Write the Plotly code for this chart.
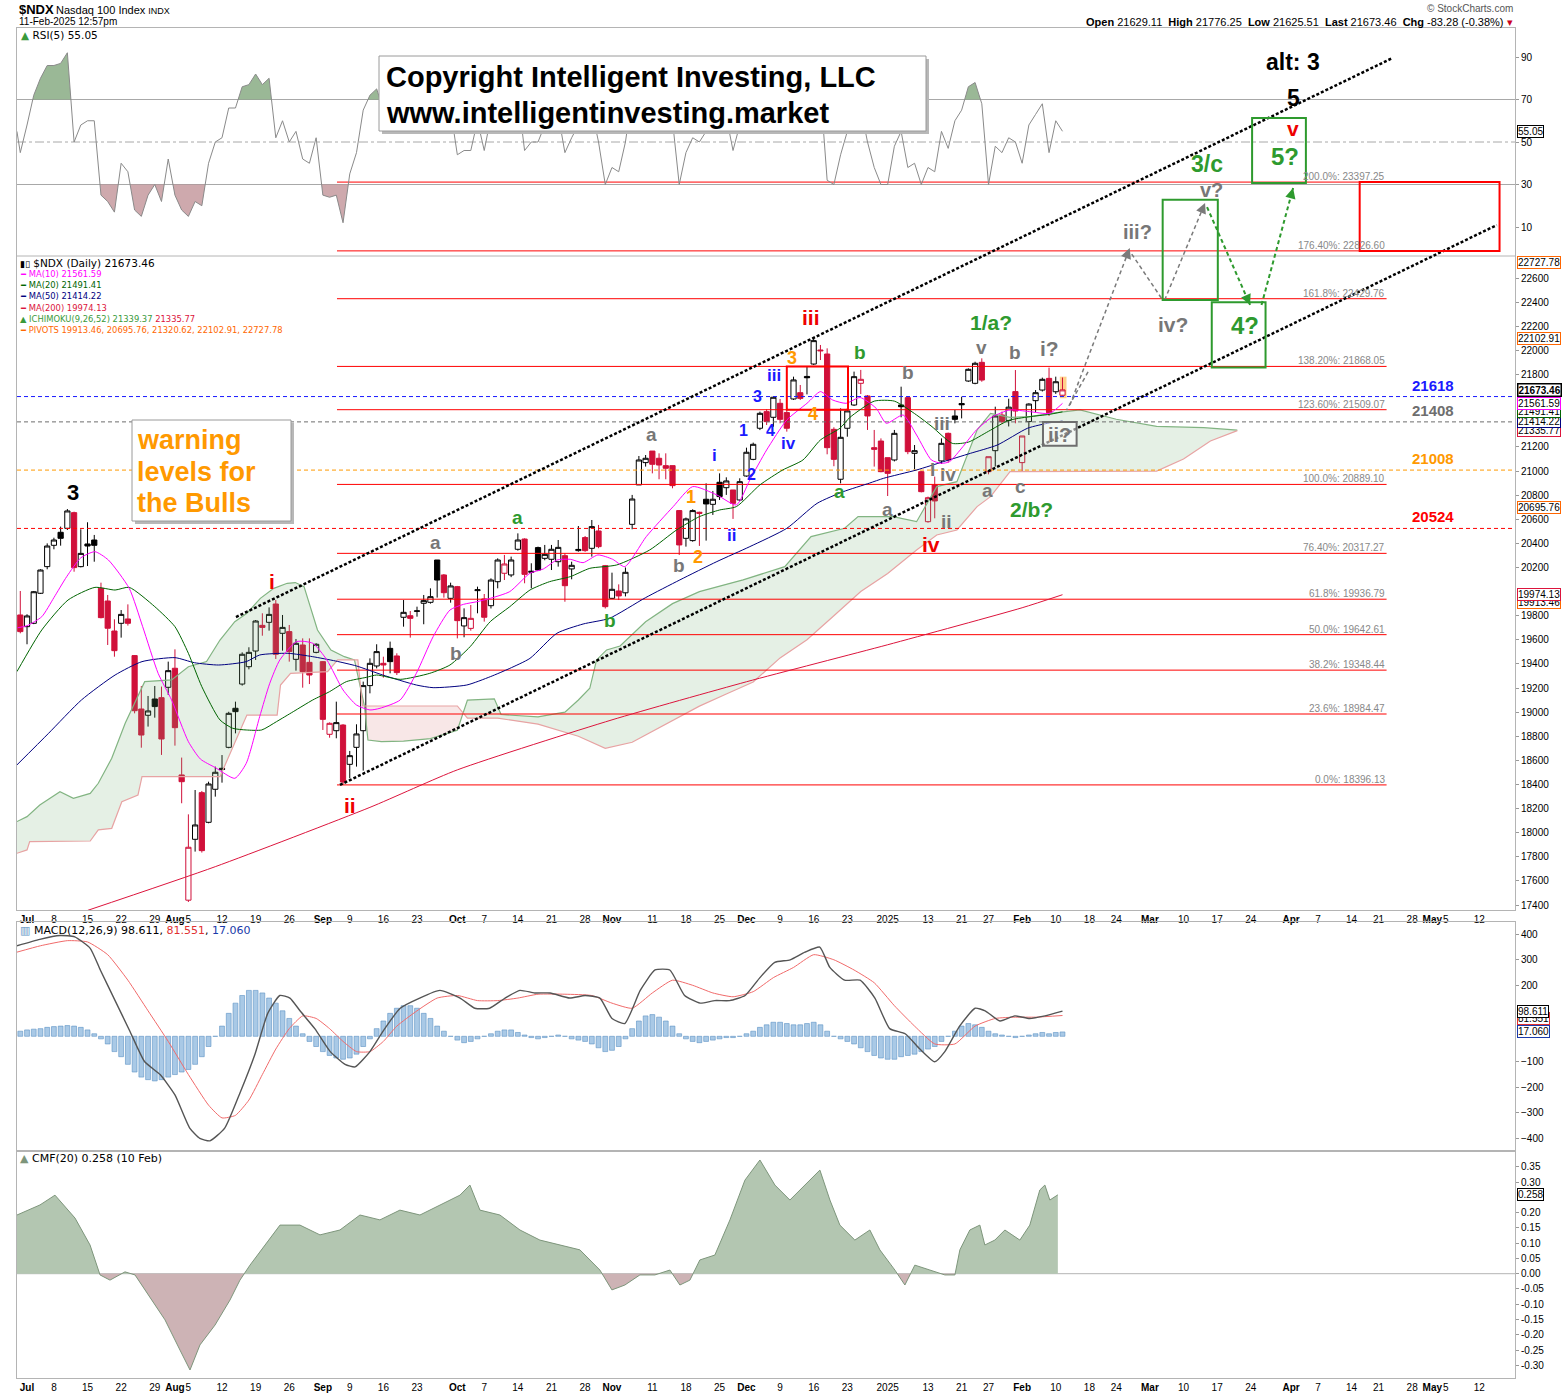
import numpy as np
import plotly.graph_objects as go

# ---------------- layout constants (pixels of the target picture) ----------------
# The page is photographed with a slight vertical squeeze, so the figure is laid out
# K times taller; every vertical position below is given in target-picture pixels.
K = 1405 / 1396
W, H = 1565, 1405
ML, MR = 17, 50
MT, MB = 28 * K, 18 * K
PW = W - ML - MR


def pxx(x):
    return (x - ML) / PW


def pxy(y):
    return 1 - (y - 28) / 1350


X_RANGE = [-1.49, 221.3]
PRICE_RANGE = [17358.5, 24675.6]
RSI_RANGE = [-311.4, 103.65]
MACD_RANGE = [-448.6, 448.2]
CMF_RANGE = [-0.3412, 0.4024]

# ---------------- x axis: trading-day index (0 = 1 Jul 2024) ----------------
TICK_IDX = [0, 4, 9, 14, 19, 22, 24, 29, 34, 39, 44, 48, 53, 58, 64, 68, 73, 78, 83, 87, 93, 98, 103,
            107, 112, 117, 122, 128, 134, 139, 143, 148, 153, 158, 162, 167, 172, 177, 182, 188, 192,
            197, 201, 206, 209, 211, 216]
TICK_TXT = ["Jul", "8", "15", "22", "29", "Aug", "5", "12", "19", "26", "Sep", "9", "16", "23", "Oct", "7",
            "14", "21", "28", "Nov", "11", "18", "25", "Dec", "9", "16", "23", "2025", "13", "21", "27",
            "Feb", "10", "18", "24", "Mar", "10", "17", "24", "Apr", "7", "14", "21", "28", "May", "5", "12"]

# y ticks (values hidden behind the value tags are left out, as on the chart)
PRICE_TICKS = [v for v in range(17400, 22601, 200) if v not in (21600, 21400, 20000)]
RSI_TICKS = [10, 30, 50, 70, 90]
MACD_TICKS = [400, 300, 200, -100, -200, -300, -400]
CMF_TICKS = [0.35, 0.30, 0.20, 0.15, 0.10, 0.05, 0.00, -0.05, -0.10, -0.15, -0.20, -0.25, -0.30]

# ---------------- daily OHLC ----------------
IDX = list(range(-1, 155))
OPEN = [19806, 19709, 19737, 19986, 20207, 20384, 20492, 20525, 20655, 20207, 20395, 20428, 20027, 19922,
        19673, 19737, 19773, 19469, 19026, 18974, 19109, 19120, 19206, 19364, 18479, 17440, 17945, 18332,
        18086, 18360, 18534, 18708, 19032, 19233, 19377, 19507, 19720, 19745, 19897, 19654, 19668, 19438,
        19557, 19413, 19496, 19419, 18816, 18846, 18893, 18567, 18708, 18846, 19220, 19383, 19405, 19529,
        19466, 19787, 19800, 19836, 19903, 19911, 20262, 20138, 19944, 20041, 19715, 19695, 20008, 19939,
        19883, 20082, 20152, 20138, 20351, 20436, 20160, 20365, 20276, 20268, 20248, 20298, 20188, 20340,
        20448, 20359, 20503, 20215, 19944, 20005, 19990, 20558, 20885, 21070, 21166, 21106, 21045, 21045,
        20672, 20442, 20423, 20658, 20766, 20724, 20907, 20862, 20843, 20760, 20959, 21097, 21355, 21493,
        21446, 21562, 21485, 21598, 21650, 21785, 21888, 22004, 21971, 21346, 20932, 21355, 21548, 21728,
        21623, 21194, 21249, 21111, 21092, 21548, 21609, 21147, 20995, 20580, 20884, 21084, 21313, 21457,
        21560, 21747, 21728, 21902, 20995, 21169, 21465, 21420, 21659, 21070, 21410, 21584, 21672, 21769,
        21658, 21629.11]
HIGH = [20005, 19812, 20005, 20185, 20400, 20447, 20539, 20685, 20663, 20517, 20575, 20470, 20074, 19972,
        19770, 19847, 19894, 19474, 19217, 19134, 19217, 19212, 19419, 19521, 18623, 18152, 18354, 18346,
        18423, 18548, 18644, 19003, 19087, 19496, 19538, 19764, 19820, 19869, 19930, 19806, 19723, 19607,
        19612, 19612, 19572, 19424, 18915, 19087, 18900, 18678, 18899, 19253, 19446, 19563, 19460, 19585,
        19488, 19930, 19839, 19875, 19972, 20027, 20262, 20146, 20074, 20047, 19861, 19889, 20041, 19980,
        20110, 20276, 20304, 20290, 20483, 20442, 20235, 20373, 20387, 20387, 20428, 20317, 20248, 20544,
        20461, 20594, 20553, 20221, 20157, 20060, 20200, 20802, 21125, 21133, 21166, 21147, 21147, 21045,
        20677, 20614, 20683, 20663, 20898, 20835, 20981, 20948, 20843, 20940, 21194, 21236, 21493, 21512,
        21617, 21598, 21529, 21783, 21714, 21866, 22101, 22046, 22018, 21363, 21520, 21520, 21825, 21839,
        21631, 21341, 21271, 21111, 21341, 21700, 21617, 21216, 21000, 20788, 20954, 21271, 21319, 21507,
        21617, 21852, 21907, 21935, 21119, 21534, 21493, 21600, 21838, 21291, 21562, 21672, 21775, 21858,
        21783, 21776.25]
LOW = [19654, 19563, 19730, 19980, 20185, 20351, 20381, 20511, 20165, 20201, 20212, 20248, 19778, 19557,
       19460, 19618, 19718, 18990, 18705, 18880, 18954, 18645, 19142, 18722, 18244, 17425, 17843, 17835,
       18078, 18299, 18415, 18700, 18824, 19220, 19355, 19433, 19634, 19676, 19441, 19510, 19419, 19344,
       19203, 19233, 19488, 18852, 18788, 18783, 18396, 18451, 18548, 18515, 19156, 19363, 19286, 19322,
       19308, 19709, 19618, 19792, 19729, 19900, 19950, 19950, 19908, 19612, 19621, 19676, 19820, 19751,
       19860, 20027, 20096, 20120, 20340, 20069, 20027, 20170, 20260, 20179, 20207, 19916, 20102, 20331,
       20330, 20290, 20360, 19860, 19940, 19930, 19960, 20517, 20885, 21037, 20981, 20932, 20932, 20857,
       20304, 20373, 20414, 20379, 20423, 20636, 20760, 20802, 20603, 20750, 20953, 21090, 21340, 21382,
       21368, 21396, 21327, 21590, 21590, 21636, 21880, 21921, 21139, 21040, 20898, 21285, 21540, 21639,
       21341, 21037, 20990, 20793, 21080, 21446, 21140, 21014, 20823, 20572, 20608, 21060, 21070, 21396,
       21437, 21740, 21720, 21741, 20973, 21037, 21390, 21370, 21396, 20995, 21299, 21490, 21660, 21457,
       21640, 21625.51]
CLOSE = [19668, 19798, 19999, 20179, 20378, 20428, 20442, 20669, 20199, 20317, 20378, 20384, 19784, 19696,
         19510, 19811, 19737, 19012, 18810, 19010, 19046, 18777, 19344, 18871, 18423, 17879, 18064, 17851,
         18404, 18501, 18524, 18990, 19004, 19480, 19496, 19756, 19703, 19811, 19480, 19703, 19502, 19571,
         19336, 19308, 19563, 18940, 18907, 18913, 18420, 18639, 18819, 19220, 19405, 19502, 19391, 19419,
         19328, 19828, 19778, 19840, 19925, 19958, 20096, 19991, 20047, 19759, 19784, 19778, 20015, 19787,
         20096, 20262, 20229, 20262, 20428, 20143, 20168, 20179, 20309, 20351, 20367, 20049, 20218, 20350,
         20340, 20539, 20373, 19875, 20019, 19964, 20160, 20768, 21092, 21106, 21056, 21050, 21023, 20879,
         20387, 20603, 20672, 20649, 20727, 20766, 20788, 20918, 20732, 20912, 21156, 21222, 21479, 21410,
         21612, 21429, 21355, 21756, 21603, 21774, 22082, 21998, 21194, 21097, 21280, 21499, 21783, 21761,
         21457, 21180, 20995, 20981, 21313, 21534, 21161, 21169, 20829, 20779, 20752, 21230, 21092, 21429,
         21550, 21844, 21894, 21755, 21119, 21457, 21410, 21530, 21498, 21291, 21556, 21650, 21761, 21484,
         21741, 21673.46]

# ---------------- moving averages ----------------
MA10_X = [-1.4, 0, 2.2, 4, 5.9, 8, 10.1, 12.1, 15.2, 17.2, 19.5, 21.5, 24, 25.8, 28, 30.9, 32.6, 34.6, 36.1,
          37.6, 40.1, 42.5, 44.6, 47, 49, 51, 52.5, 55.5, 57.9, 60.4, 62.9, 64.9, 66.9, 68.9, 71.8, 74.8,
          76.8, 78.8, 80.8, 82.7, 84.9, 87.1, 88.9, 92.1, 96.1, 99, 102.6, 105.5, 107.5, 110, 113, 116, 118,
          119.8, 121.8, 123.9, 126.3, 127.8, 130.3, 132.3, 134.5, 136, 137.2, 139.2, 141.2, 143.6, 146.2,
          149.1, 152.1, 154]
MA10_Y = [19700, 19717, 19792, 19950, 20124, 20280, 20331, 20262, 20027, 19709, 19322, 19101, 18755, 18610,
          18540, 18451, 18575, 18962, 19239, 19433, 19585, 19571, 19433, 19184, 19059, 19018, 19032, 19101,
          19322, 19626, 19847, 19894, 19916, 19944, 20000, 20152, 20188, 20262, 20268, 20240, 20304, 20268,
          20207, 20456, 20705, 20871, 20802, 20719, 20926, 21175, 21424, 21562, 21659, 21590, 21562, 21610,
          21520, 21396, 21465, 21299, 21092, 21064, 21078, 21203, 21341, 21451, 21507, 21493, 21479, 21561.59]
MA20_X = [-1.5, 2.2, 6.1, 10.1, 13.1, 15.2, 19, 22, 24, 26, 28.7, 30.6, 32.6, 34.9, 37.1, 39.6, 42.5, 45,
          47.5, 50.5, 52, 55.5, 59.9, 62.9, 65.9, 68.9, 71.8, 74.8, 77.7, 80.8, 83.7, 87.7, 92.6, 96.6, 100,
          103, 105.5, 109, 112.4, 115.4, 118, 120.9, 122.4, 126, 129, 132.3, 134.6, 137.6, 140, 143, 146,
          149, 152, 154]
MA20_Y = [19336, 19682, 19930, 20035, 20013, 20035, 19875, 19709, 19488, 19211, 18935, 18866, 18852, 18852,
          18921, 19004, 19101, 19170, 19253, 19289, 19308, 19272, 19322, 19391, 19543, 19751, 19875, 20013,
          20082, 20124, 20193, 20221, 20345, 20511, 20622, 20677, 20705, 20885, 21009, 21092, 21258, 21355,
          21446, 21580, 21580, 21465, 21368, 21230, 21240, 21330, 21420, 21450, 21470, 21491.41]
MA50_X = [-1.5, 3.2, 8.1, 13.1, 17.1, 22, 24.9, 28.5, 32.6, 34.6, 38.8, 42.5, 45.9, 49, 52.9, 57.9, 60.4,
          65.4, 68.9, 71.8, 74.8, 78.8, 82.7, 86.6, 92, 97.1, 102.6, 107.5, 113, 117.5, 121.4, 125.3, 127.4,
          132.3, 136.3, 140.3, 144.3, 148.8, 152.1, 154]
MA50_Y = [18562, 18824, 19101, 19308, 19419, 19452, 19410, 19391, 19419, 19474, 19488, 19460, 19424, 19383,
          19308, 19225, 19203, 19225, 19294, 19363, 19446, 19654, 19731, 19778, 19950, 20097, 20249, 20373,
          20525, 20732, 20829, 20900, 20940, 21009, 21078, 21147, 21216, 21355, 21400, 21414.22]
MA200_X = [9, 28, 51, 64, 87, 107, 128, 148, 154]
MA200_Y = [17355, 17718, 18210, 18521, 18936, 19252, 19559, 19866, 19974.13]

# ---------------- Ichimoku cloud spans ----------------
SPAN_A_X = [-1.5, 0, 1.9, 4.9, 6.9, 9.4, 10.6, 12.6, 14.6, 16.5, 17.5, 21.5, 24, 26.7, 28.7, 30.9, 32.7,
            34.7, 36.7, 38.7, 39.9, 41.2, 43.2, 45.2, 47.2, 48.7, 50.2, 50.7, 52.7, 56, 60, 64, 65.5, 69.5,
            70.5, 76, 80, 82, 83.7, 84.7, 86.2, 88.2, 92, 96, 100, 104, 106.5, 112.7, 116.6, 121.6, 123.6,
            128.8, 132.3, 135.3, 138.3, 141.3, 143.3, 146.2, 149.2, 152.2, 156.6, 162, 168, 175, 180]
SPAN_A_Y = [18092, 18133, 18230, 18340, 18285, 18326, 18410, 18617, 18907, 19128, 19253, 19267, 19377,
            19420, 19598, 19750, 19820, 19944, 20027, 20069, 20075, 20041, 19681, 19515, 19460, 19433, 19045,
            18769, 18755, 18760, 18780, 18850, 19100, 19110, 18980, 18960, 19000, 19101, 19198, 19433, 19516,
            19549, 19750, 19900, 20000, 20060, 20097, 20207, 20456, 20525, 20622, 20622, 20580, 20871, 20912,
            21341, 21479, 21446, 21451, 21479, 21507, 21430, 21370, 21360, 21339]
SPAN_B_X = [-1.5, 0, 0.4, 9.4, 10.6, 12.6, 14.1, 16.5, 17.1, 28.7, 32.7, 37.2, 37.7, 39.2, 44.7, 46.2, 49.2,
            49.9, 64, 65.5, 70, 76, 82, 86, 90, 95, 100, 104, 108, 112, 116, 120, 124, 128, 132.3, 135.3,
            138.3, 141.3, 143.3, 146.2, 156.6, 168, 172, 176, 180]
SPAN_B_Y = [17829, 17857, 17926, 17931, 18023, 18036, 18257, 18312, 18465, 18465, 18976, 18976, 19225,
            19322, 19336, 19433, 19433, 19051, 19051, 18950, 18950, 18900, 18800, 18700, 18750, 18900, 19050,
            19150, 19250, 19450, 19600, 19800, 20000, 20150, 20345, 20470, 20511, 20705, 20788, 20995, 20995,
            21000, 21100, 21250, 21335]

# ---------------- Fibonacci extension levels ----------------
FIB_VAL = [23397.25, 22826.60, 22429.76, 21868.05, 21509.07, 20889.10, 20317.27, 19936.79, 19642.61,
           19348.44, 18984.47, 18396.13]
FIB_TXT = ["200.0%: 23397.25", "176.40%: 22826.60", "161.8%: 22429.76", "138.20%: 21868.05",
           "123.60%: 21509.07", "100.0%: 20889.10", "76.40%: 20317.27", "61.8%: 19936.79",
           "50.0%: 19642.61", "38.2%: 19348.44", "23.6%: 18984.47", "0.0%: 18396.13"]
FIB_X = [46.1, 202.2]

# warning levels
LEVEL_VAL = [21618, 21408, 21008, 20524]
LEVEL_COL = ["#1a1aff", "#6e6e6e", "#ff9900", "#ff0000"]

# channel lines (start / end points, index, price)
UPPER_CH = [(31.08, 19789), (203.1, 24427)]
LOWER_CH = [(46.54, 18396), (218.6, 23041)]

# ---------------- RSI(5) ----------------
RSI_X = [-1.5] + list(range(-1, 155))
RSI_Y = [55, 45, 58, 72, 80, 86, 86, 87, 92, 50, 58, 60, 60, 25, 22, 17, 40, 36, 18, 15, 25, 30, 22, 42, 25,
         18, 15, 22, 20, 40, 50, 52, 66, 66, 76, 77, 82, 77, 80, 52, 60, 50, 55, 42, 40, 52, 25, 24, 25, 12,
         35, 45, 65, 72, 75, 65, 66, 60, 75, 70, 72, 74, 75, 70, 60, 65, 44, 46, 46, 60, 46, 62, 70, 65, 68,
         72, 46, 50, 50, 58, 62, 63, 45, 52, 58, 55, 65, 50, 30, 38, 36, 50, 72, 82, 83, 76, 75, 72, 60, 30,
         45, 52, 50, 55, 58, 58, 62, 46, 58, 70, 74, 80, 70, 76, 62, 55, 72, 65, 68, 80, 75, 32, 30, 44, 55,
         68, 66, 50, 38, 30, 30, 48, 55, 38, 40, 30, 38, 36, 55, 47, 60, 65, 76, 78, 68, 30, 48, 45, 52, 50,
         40, 58, 63, 68, 45, 60, 55.05]

# ---------------- MACD(12,26,9) ----------------
MACD_X = [-1.49, 1.9, 4.9, 7.1, 9.4, 10.9, 13.1, 15.3, 17.5, 19.8, 22, 24.2, 25.7, 27.2, 29.4, 31.7, 33.9,
          35.8, 37.6, 39.1, 40.6, 42.8, 45.1, 47.3, 48.8, 51, 53.2, 55.5, 58.4, 61.4, 64.4, 66.6, 68.8, 71.1,
          73.3, 75.5, 77.8, 80.7, 83, 85.2, 87, 88.9, 91.2, 93.4, 95.6, 97.8, 100.1, 102.3, 104.5, 106.8,
          109, 111.2, 113.5, 115.7, 117.9, 119.4, 121.6, 123.9, 126.1, 128.3, 130.6, 132.8, 135, 136.5,
          138.7, 141, 142.5, 144.7, 146.9, 149.1, 151.4, 154]
MACD_Y = [355, 380, 395, 390, 345, 260, 140, 20, -100, -150, -230, -360, -400, -410, -360, -220, -70, 90,
          160, 150, 100, 30, -60, -110, -120, -60, 30, 110, 150, 180, 150, 110, 110, 150, 180, 170, 170, 150,
          160, 150, 70, 50, 180, 260, 260, 160, 130, 140, 140, 160, 230, 290, 300, 330, 350, 270, 220, 220,
          150, 30, 10, -50, -100, -60, 40, 110, 100, 60, 80, 70, 80, 98.611]
SIG_X = [-1.49, 2, 6, 9, 12, 15, 18, 21, 24, 27, 29, 31, 33, 35, 37, 39, 41, 43, 45, 47, 49, 51, 53, 55, 58,
         61, 64, 67, 70, 73, 76, 80, 84, 87, 90, 93, 96, 99, 102, 105, 108, 111, 114, 117, 120, 123, 126,
         129, 132, 135, 138, 141, 144, 147, 150, 154]
SIG_Y = [330, 355, 375, 370, 320, 220, 100, -20, -150, -270, -320, -310, -250, -150, -50, 30, 80, 70, 30,
         -20, -60, -60, -20, 40, 100, 150, 160, 140, 140, 150, 165, 165, 160, 130, 110, 170, 220, 200, 170,
         155, 175, 230, 270, 320, 300, 260, 210, 120, 40, -30, -30, 40, 70, 75, 75, 81.551]
HIST = [20, 25, 28, 30, 35, 38, 40, 42, 40, 35, 25, 10,
        -10, -30, -60, -80, -110, -140, -160, -170, -175, -170, -160, -150,
        -140, -130, -110, -80, -40, 0, 40, 90,
        130, 160, 180, 180, 170, 150, 130, 100, 70, 40,
        10, -20, -40, -60, -75, -85, -90, -85,
        -70, -40, -10, 30, 60, 90, 110, 120, 120, 110,
        90, 70, 40, 20, 0, -15, -25, -20,
        -10, 0, 10, 20, 25, 25, 15, 5, -5, -10,
        -5, 0, 5, 0, -10, -15, -20, -30, -45, -60,
        -55, -40, -10, 30, 60, 80, 85, 75, 60, 40,
        10, -10, -20, -25, -20, -15, -10, -5, -5, 0,
        10, 20, 35, 45, 55, 55, 50, 45, 45, 50, 55, 45,
        20, 0, -10, -20, -30, -45, -60, -75, -85, -90, -90, -80,
        -75, -70, -60, -50, -40, -20, 0, 20, 40, 50,
        45, 35, 20, 10, 5, 0, -5, 0, 5, 10, 15, 10, 15, 17.06]

# ---------------- CMF(20) ----------------
CMF_X = [-1.49, 1.93, 4.16, 7.14, 9.37, 10.86, 12.34, 14.57, 16.06, 17.55, 20.52, 22.75, 24.24, 25.72, 27.96,
         30.19, 31.67, 33.16, 35.39, 37.62, 40.59, 43.57, 46.54, 49.52, 52.49, 55.46, 58.44, 61.41, 64.39,
         65.87, 67.36, 70.33, 73.31, 76.28, 79.26, 82.23, 85.2, 86.99, 88.92, 91.15, 93.38, 95.61, 97.1,
         98.59, 100.07, 102.3, 104.54, 106.77, 109.0, 111.23, 113.46, 115.69, 117.92, 119.41, 120.89, 123.12,
         125.35, 126.84, 129.07, 130.56, 132.04, 134.28, 136.51, 138.0, 138.74, 140.22, 141.71, 142.45,
         143.94, 145.43, 147.66, 149.14, 150.63, 151.38, 152.12, 153.31]
CMF_Y = [0.192, 0.225, 0.257, 0.182, 0.094, -0.004, -0.021, 0.006, -0.004, -0.053, -0.151, -0.250, -0.315,
         -0.233, -0.168, -0.086, -0.021, 0.028, 0.094, 0.159, 0.159, 0.127, 0.143, 0.192, 0.176, 0.208,
         0.192, 0.225, 0.257, 0.290, 0.208, 0.192, 0.143, 0.110, 0.094, 0.078, 0.012, -0.053, -0.037,
         -0.004, -0.004, 0.012, -0.037, -0.021, 0.045, 0.061, 0.176, 0.306, 0.372, 0.290, 0.241, 0.290,
         0.339, 0.241, 0.159, 0.110, 0.143, 0.078, 0.012, -0.037, 0.028, 0.012, -0.004, -0.004, 0.078,
         0.143, 0.159, 0.094, 0.110, 0.143, 0.110, 0.159, 0.274, 0.290, 0.241, 0.258]

# ---------------- wave labels: (text, index, price, colour, size) ----------------
GRAY, RED, BLUE, GREEN, ORANGE, BLACK = "#777777", "#ee0000", "#1a1aff", "#2e9a2e", "#ff9900", "#000000"
WAVE_LABELS = [
    ("3", 6.84, 20826, BLACK, 22), ("4", 23.8, 17276, BLACK, 22),
    ("i", 36.4, 20080, RED, 21), ("ii", 48.0, 18222, RED, 21), ("iii", 116.6, 22270, RED, 21),
    ("iv", 134.4, 20387, RED, 21), ("v", 188.3, 23846, RED, 21), ("5", 188.3, 24095, BLACK, 23),
    ("alt: 3", 188.3, 24394, BLACK, 23),
    ("a", 60.7, 20404, GRAY, 19), ("b", 63.8, 19483, GRAY, 19), ("a", 72.9, 20611, GREEN, 19),
    ("b", 86.7, 19757, GREEN, 19), ("a", 92.9, 21300, GRAY, 19), ("b", 97.0, 20214, GRAY, 19),
    ("1", 98.7, 20787, ORANGE, 18), ("2", 99.8, 20290, ORANGE, 18),
    ("i", 102.3, 21126, BLUE, 17), ("ii", 104.8, 20462, BLUE, 17), ("1", 106.6, 21333, BLUE, 16),
    ("2", 107.7, 20968, BLUE, 16), ("3", 108.7, 21615, BLUE, 16), ("iii", 111.1, 21790, BLUE, 17),
    ("4", 110.6, 21333, BLUE, 16), ("iv", 113.2, 21225, BLUE, 17),
    ("3", 113.8, 21939, ORANGE, 18), ("4", 116.9, 21474, ORANGE, 18),
    ("b", 123.9, 21980, GREEN, 19), ("a", 120.9, 20827, GREEN, 19),
    ("b", 131.0, 21814, GRAY, 19), ("a", 127.9, 20677, GRAY, 19), ("I", 134.6, 21009, GRAY, 19),
    ("iii", 136.1, 21391, GRAY, 19), ("iv", 137.0, 20968, GRAY, 19), ("ii", 136.7, 20578, GRAY, 19),
    ("v", 141.9, 22029, GRAY, 19), ("1/a?", 143.3, 22236, GREEN, 21), ("a", 142.9, 20835, GRAY, 19),
    ("b", 146.9, 21980, GRAY, 19), ("c", 147.8, 20868, GRAY, 19), ("2/b?", 149.4, 20685, GREEN, 21),
    ("i?", 152.1, 22013, GRAY, 21), ("ii?", 153.6, 21299, GRAY, 20),
    ("iii?", 165.1, 22983, GRAY, 20), ("iv?", 170.4, 22212, GRAY, 21), ("v?", 176.1, 23330, GRAY, 20),
    ("3/c", 175.5, 23550, GREEN, 23), ("4?", 181.1, 22204, GREEN, 24), ("5?", 187.1, 23606, GREEN, 24),
]

# projected paths (index, price)
GRAY_PATH = [[(157.8, 21822), (154.6, 21506)], [(155.1, 21548), (164.0, 22850)],
             [(164.3, 22800), (168.9, 22419)], [(169.2, 22419), (175.2, 23224)]]
GREEN_PATH = [[(175.5, 23190), (181.9, 22378)], [(183.6, 22378), (188.3, 23348)]]

# target boxes (x0, x1, p0, p1)
GREEN_BOXES = [(168.9, 177.1, 22419, 23250), (176.2, 184.2, 21860, 22400), (182.2, 190.2, 23390, 23929)]
RED_BOXES = [(198.2, 219.0, 22826.60, 23397.25), (113.0, 122.1, 21509.07, 21868.05)]

# value tags on the right axis: (text, value, colour)
PRICE_TAGS = [("22727.78", 22727.78, "#ff6600"), ("22102.91", 22102.91, "#ff6600"),
              ("21335.77", 21335.77, "#dc143c"), ("21414.22", 21414.22, "#000080"),
              ("21491.41", 21491.41, "#006400"), ("21561.59", 21561.59, "#ff00ff"),
              ("21673.46", 21673.46, "#000000"), ("20695.76", 20695.76, "#ff6600"),
              ("19913.46", 19913.46, "#ff6600"), ("19974.13", 19974.13, "#dc143c")]

# ---------------- helpers ----------------


def band_polys(xs, y1, y2):
    px, p1, p2 = [xs[0]], [y1[0]], [y2[0]]
    for k in range(1, len(xs)):
        d0 = y1[k - 1] - y2[k - 1]
        d1 = y1[k] - y2[k]
        if d0 * d1 < 0:
            t = d0 / (d0 - d1)
            xc = xs[k - 1] + t * (xs[k] - xs[k - 1])
            yc = y1[k - 1] + t * (y1[k] - y1[k - 1])
            px.append(xc); p1.append(yc); p2.append(yc)
        px.append(xs[k]); p1.append(y1[k]); p2.append(y2[k])
    runs, cur = [], [0]
    for k in range(1, len(px)):
        cur.append(k)
        if abs(p1[k] - p2[k]) < 1e-12 and k < len(px) - 1:
            runs.append(cur)
            cur = [k]
    runs.append(cur)
    out = []
    for r in runs:
        s = sum(p1[k] - p2[k] for k in r)
        if len(r) < 2 or s == 0:
            continue
        xx = [px[k] for k in r] + [px[k] for k in r[::-1]]
        yy = [p1[k] for k in r] + [p2[k] for k in r[::-1]]
        out.append((xx, yy, s > 0))
    return out


fig = go.Figure()
SKIP = dict(hoverinfo="skip", showlegend=False)

# ---- Ichimoku cloud ----
lo = max(SPAN_A_X[0], SPAN_B_X[0]); hi = min(SPAN_A_X[-1], SPAN_B_X[-1])
grid = sorted(x for x in set(SPAN_A_X) | set(SPAN_B_X) if lo <= x <= hi)
ga = np.interp(grid, SPAN_A_X, SPAN_A_Y).tolist()
gb = np.interp(grid, SPAN_B_X, SPAN_B_Y).tolist()
for xx, yy, pos in band_polys(grid, ga, gb):
    fig.add_trace(go.Scatter(x=xx, y=yy, mode="lines", fill="toself", line=dict(width=0),
                             fillcolor="rgba(110,170,110,0.18)" if pos else "rgba(215,110,110,0.17)", **SKIP))
fig.add_trace(go.Scatter(x=SPAN_A_X, y=SPAN_A_Y, mode="lines", line=dict(color="#82b482", width=1.2), **SKIP))
fig.add_trace(go.Scatter(x=SPAN_B_X, y=SPAN_B_Y, mode="lines", line=dict(color="#e7a3a3", width=1.2), **SKIP))

# ---- fib + level lines ----
for v in FIB_VAL:
    fig.add_trace(go.Scatter(x=FIB_X, y=[v, v], mode="lines", line=dict(color="#ff0000", width=1), **SKIP))
for v, c in zip(LEVEL_VAL, LEVEL_COL):
    fig.add_trace(go.Scatter(x=X_RANGE, y=[v, v], mode="lines", line=dict(color=c, width=1, dash="4px,3px"),
                             **SKIP))

# ---- candles ----
prev = [None] + CLOSE[:-1]
RED_C = "#d0103a"


def subset(cond):
    xs, o, h, l, c = [], [], [], [], []
    for k in range(len(IDX)):
        if cond(k):
            xs.append(IDX[k]); o.append(OPEN[k]); h.append(HIGH[k]); l.append(LOW[k]); c.append(CLOSE[k])
    return xs, o, h, l, c


def is_red(k):
    return prev[k] is None or CLOSE[k] < prev[k]


styles = [
    (lambda k: CLOSE[k] >= OPEN[k] and not is_red(k), "black", "white"),
    (lambda k: CLOSE[k] < OPEN[k] and not is_red(k), "black", "black"),
    (lambda k: CLOSE[k] < OPEN[k] and is_red(k), RED_C, RED_C),
    (lambda k: CLOSE[k] >= OPEN[k] and is_red(k), RED_C, "white"),
]
for cond, lc, fc in styles:
    xs, o, h, l, c = subset(cond)
    if not xs:
        continue
    fig.add_trace(go.Candlestick(x=xs, open=o, high=h, low=l, close=c, whiskerwidth=0,
                                 increasing=dict(line=dict(color=lc, width=1), fillcolor=fc),
                                 decreasing=dict(line=dict(color=lc, width=1), fillcolor=fc), **SKIP))

# ---- moving averages ----
for xs, ys, col in [(MA200_X, MA200_Y, "#dc143c"), (MA50_X, MA50_Y, "#000080"),
                    (MA20_X, MA20_Y, "#006400"), (MA10_X, MA10_Y, "#ff00ff")]:
    fig.add_trace(go.Scatter(x=xs, y=ys, mode="lines", line=dict(color=col, width=1, shape="spline",
                                                                 smoothing=0.6), **SKIP))

# ---- RSI ----
for lvl, dash in [(70, "solid"), (50, "dashdot"), (30, "solid")]:
    fig.add_trace(go.Scatter(x=X_RANGE, y=[lvl, lvl], mode="lines", yaxis="y2",
                             line=dict(color="#a8a8a8", width=1, dash=dash), **SKIP))
for lvl, want, col in [(70, True, "rgba(120,160,115,0.75)"), (30, False, "rgba(190,140,145,0.75)")]:
    for xx, yy, pos in band_polys(RSI_X, RSI_Y, [lvl] * len(RSI_X)):
        if pos == want:
            fig.add_trace(go.Scatter(x=xx, y=yy, mode="lines", fill="toself", fillcolor=col,
                                     line=dict(width=0), yaxis="y2", **SKIP))
fig.add_trace(go.Scatter(x=RSI_X, y=RSI_Y, mode="lines", yaxis="y2", line=dict(color="#8a8a8a", width=1),
                         **SKIP))

# ---- MACD ----
fig.add_trace(go.Bar(x=IDX, y=HIST, xaxis="x2", yaxis="y3", width=0.72, marker=dict(
    color="#a9c9e6", line=dict(color="#5d92c4", width=0.6)), **SKIP))
fig.add_trace(go.Scatter(x=SIG_X, y=SIG_Y, xaxis="x2", yaxis="y3", mode="lines",
                         line=dict(color="#f06a6a", width=1, shape="spline", smoothing=0.5), **SKIP))
fig.add_trace(go.Scatter(x=MACD_X, y=MACD_Y, xaxis="x2", yaxis="y3", mode="lines",
                         line=dict(color="#555555", width=1.4, shape="spline", smoothing=0.5), **SKIP))

# ---- CMF ----
for xx, yy, pos in band_polys(CMF_X, CMF_Y, [0] * len(CMF_X)):
    fig.add_trace(go.Scatter(x=xx, y=yy, mode="lines", fill="toself", line=dict(width=0),
                             fillcolor="#b3c6b1" if pos else "#cdb3b5", xaxis="x3", yaxis="y4", **SKIP))
fig.add_trace(go.Scatter(x=CMF_X, y=CMF_Y, mode="lines", xaxis="x3", yaxis="y4",
                         line=dict(color="#7d957b", width=1), **SKIP))

# ---------------- shapes ----------------
shapes = []
AX_LINE = "#b4b4b4"
shapes.append(dict(type="line", xref="paper", yref="paper", x0=0, x1=1, y0=pxy(256), y1=pxy(256),
                   line=dict(color=AX_LINE, width=1)))
shapes.append(dict(type="line", xref="x3", yref="y4", x0=X_RANGE[0], x1=X_RANGE[1], y0=0, y1=0,
                   line=dict(color=AX_LINE, width=1), layer="below"))
for (a, b) in [UPPER_CH, LOWER_CH]:
    shapes.append(dict(type="line", xref="x", yref="y", x0=a[0], y0=a[1], x1=b[0], y1=b[1],
                       line=dict(color="black", width=2.5, dash="3px,2px")))
for seg in GRAY_PATH:
    shapes.append(dict(type="line", xref="x", yref="y", x0=seg[0][0], y0=seg[0][1], x1=seg[1][0],
                       y1=seg[1][1], line=dict(color="#7a7a7a", width=1.5, dash="4px,3px")))
for seg in GREEN_PATH:
    shapes.append(dict(type="line", xref="x", yref="y", x0=seg[0][0], y0=seg[0][1], x1=seg[1][0],
                       y1=seg[1][1], line=dict(color="#2e9a2e", width=2, dash="4px,3px")))
for (x0, x1, p0, p1) in GREEN_BOXES:
    shapes.append(dict(type="rect", xref="x", yref="y", x0=x0, x1=x1, y0=p0, y1=p1,
                       line=dict(color="#2e9a2e", width=2)))
for (x0, x1, p0, p1) in RED_BOXES:
    shapes.append(dict(type="rect", xref="x", yref="y", x0=x0, x1=x1, y0=p0, y1=p1,
                       line=dict(color="#ff0000", width=2)))
# ii? box and highlight of the last candle
shapes.append(dict(type="rect", xref="x", yref="y", x0=151.1, x1=156.1, y0=21209, y1=21408,
                   line=dict(color="#6e6e6e", width=2), fillcolor="rgba(255,255,255,0.55)"))
shapes.append(dict(type="rect", xref="x", yref="y", x0=153.6, x1=154.6, y0=21604, y1=21783,
                   line=dict(width=0), fillcolor="rgba(255,170,40,0.55)", layer="below"))
# text boxes with shadows
for (x0, y0, x1, y1) in [(379, 56, 926, 131), (132, 420, 291, 521)]:
    shapes.append(dict(type="rect", xref="paper", yref="paper", x0=pxx(x0 + 3), x1=pxx(x1 + 3),
                       y0=pxy(y1 + 3), y1=pxy(y0 + 3), line=dict(width=0), fillcolor="#b8b8b8"))
    shapes.append(dict(type="rect", xref="paper", yref="paper", x0=pxx(x0), x1=pxx(x1), y0=pxy(y1),
                       y1=pxy(y0), line=dict(color="#9a9a9a", width=1), fillcolor="white"))

# ---------------- annotations ----------------
ann = []
LAB_FONT = "Liberation Sans, Arial, sans-serif"
SMALL_FONT = "DejaVu Sans, Verdana, sans-serif"


def note(x, y, text, size, color="black", family=LAB_FONT, xanchor="left", **kw):
    d = dict(x=x, y=y, xref="paper", yref="paper", text=text, showarrow=False, xanchor=xanchor,
             yanchor="middle", font=dict(family=family, size=size, color=color))
    d.update(kw)
    ann.append(d)


for txt, xi, pv, col, sz in WAVE_LABELS:
    ann.append(dict(x=xi, y=pv, xref="x", yref="y", text="<b>%s</b>" % txt, showarrow=False,
                    xanchor="center", yanchor="middle", font=dict(family=LAB_FONT, size=sz, color=col)))

for seg, col in [(s, "#7a7a7a") for s in GRAY_PATH] + [(s, "#2e9a2e") for s in GREEN_PATH]:
    (xa, ya), (xb, yb) = seg
    ann.append(dict(x=xb, y=yb, ax=xb - 0.06 * (xb - xa), ay=yb - 0.06 * (yb - ya), xref="x", yref="y",
                    axref="x", ayref="y", text="", showarrow=True, arrowhead=2, arrowsize=1.3,
                    arrowwidth=1.6, arrowcolor=col, standoff=0))

for v, t in zip(FIB_VAL, FIB_TXT):
    ann.append(dict(x=FIB_X[1], y=v, xref="x", yref="y", text=t, showarrow=False, xanchor="right",
                    yanchor="bottom", yshift=-2, font=dict(family=LAB_FONT, size=10, color="#888888")))

for v, c in zip(LEVEL_VAL, LEVEL_COL):
    ann.append(dict(x=209.1, y=v, xref="x", yref="y", text="<b>%d</b>" % v, showarrow=False,
                    xanchor="center", yanchor="bottom", yshift=1, font=dict(family=LAB_FONT, size=15, color=c)))

# text boxes
note(pxx(384), pxy(77), "<b>Copyright Intelligent Investing, LLC</b>", 29)
note(pxx(384), pxy(113), "<b>www.intelligentinvesting.market</b>", 29)
for k, line in enumerate(["warning", "levels for", "the Bulls"]):
    note(pxx(135), pxy(440 + 31.5 * k), "<b>%s</b>" % line, 27, color="#ff9900")

# header
note(0, pxy(10), "<b>$NDX</b>", 13)
note(pxx(54), pxy(10), "Nasdaq 100 Index <span style='font-size:9px'>INDX</span>", 11)
note(0, pxy(22), "11-Feb-2025 12:57pm", 10)
note(1, pxy(9), "\u00a9 StockCharts.com", 10, color="#555555", xanchor="right")
note(1, pxy(22), "<b>Open</b> 21629.11  <b>High</b> 21776.25  <b>Low</b> 21625.51  <b>Last</b> 21673.46  "
                 "<b>Chg</b> -83.28 (-0.38%) <span style='color:#cc0022'>\u25BE</span>", 11, xanchor="right")
note(pxx(19), pxy(35), "<span style='color:#3a9a3a'>\u25B2</span> RSI(5) 55.05", 10.5, family=SMALL_FONT)

# legend block of price panel
note(pxx(18), pxy(263), "<span style='font-size:9px'>\u25AE\u25AF</span> $NDX (Daily) 21673.46", 10.5,
     family=SMALL_FONT)
LEG = [("\u2501 MA(10) 21561.59", "#ff00ff"),
       ("\u2501 MA(20) 21491.41", "#006400"), ("\u2501 MA(50) 21414.22", "#000080"),
       ("\u2501 MA(200) 19974.13", "#dc143c"),
       ("<span style='color:#3a9a3a'>\u25B2 ICHIMOKU(9,26,52) 21339.37</span> "
        "<span style='color:#dc143c'>21335.77</span>", "#006400"),
       ("\u2501 PIVOTS 19913.46, 20695.76, 21320.62, 22102.91, 22727.78", "#ff6600")]
for k, (t, c) in enumerate(LEG):
    note(pxx(18), pxy(274 + 11.2 * k), t, 8.4, color=c, family=SMALL_FONT)

note(pxx(18), pxy(930), "<span style='color:#5d92c4'>\u25A5</span> MACD(12,26,9) 98.611, "
                        "<span style='color:#e03030'>81.551</span>, "
                        "<span style='color:#1a3aaa'>17.060</span>", 11, family=SMALL_FONT)
note(pxx(18), pxy(1158), "<span style='color:#7d957b'>\u25B2</span> CMF(20) 0.258 (10 Feb)", 11,
     family=SMALL_FONT)

# value tags
for t, pv, c in PRICE_TAGS:
    bold = t == "21673.46"
    ann.append(dict(x=1, y=pv, xref="paper", yref="y", xanchor="left", yanchor="middle", xshift=2,
                    showarrow=False, text=("<b>%s</b>" % t) if bold else t, bgcolor="white",
                    bordercolor=c, borderwidth=1.5 if bold else 1, borderpad=0,
                    font=dict(family=LAB_FONT, size=10, color="black")))
for t, yv, yr, c in [("55.05", 55.05, "y2", "#000000"), ("81.551", 70, "y3", "#e03030"),
                     ("98.611", 98.611, "y3", "#000000"), ("17.060", 17.06, "y3", "#1a3aaa"),
                     ("0.258", 0.258, "y4", "#000000")]:
    ann.append(dict(x=1, y=yv, xref="paper", yref=yr, xanchor="left", yanchor="middle", xshift=2,
                    showarrow=False, text=t, bgcolor="white", bordercolor=c, borderwidth=1, borderpad=0,
                    font=dict(family=LAB_FONT, size=10, color="black")))

# ---------------- axes ----------------
ticktext = ["<b>%s</b>" % t if not t.isdigit() else t for t in TICK_TXT]
xcommon = dict(range=X_RANGE, showgrid=False, zeroline=False, showline=True, mirror=True,
               linecolor=AX_LINE, linewidth=1, tickvals=TICK_IDX, ticktext=ticktext, tickangle=0,
               ticks="", tickfont=dict(family=LAB_FONT, size=10, color="black"), fixedrange=True)
ycommon = dict(showgrid=False, zeroline=False, showline=True, mirror=True, linecolor=AX_LINE, side="right",
               ticks="outside", ticklen=3, tickcolor="#999999",
               tickfont=dict(family=LAB_FONT, size=10, color="black"), fixedrange=True)

fig.update_layout(
    width=W, height=H, margin=dict(l=ML, r=MR, t=MT, b=MB), paper_bgcolor="white", plot_bgcolor="white",
    showlegend=False, barmode="overlay", boxgap=0.12, boxgroupgap=0.12, hovermode=False,
    xaxis=dict(xcommon, anchor="y", domain=[0, 1], rangeslider=dict(visible=False)),
    yaxis=dict(ycommon, domain=[pxy(910), 1], range=PRICE_RANGE, tickvals=PRICE_TICKS, tickformat="d"),
    yaxis2=dict(ycommon, overlaying="y", range=RSI_RANGE, tickvals=RSI_TICKS, showline=False,
                anchor="x"),
    xaxis2=dict(xcommon, anchor="y3", domain=[0, 1], showticklabels=False),
    yaxis3=dict(ycommon, domain=[pxy(1150.7), pxy(922)], range=MACD_RANGE, tickvals=MACD_TICKS),
    xaxis3=dict(xcommon, anchor="y4", domain=[0, 1]),
    yaxis4=dict(ycommon, domain=[0, pxy(1150.7)], range=CMF_RANGE, tickvals=CMF_TICKS,
                ticktext=["%.2f" % v for v in CMF_TICKS]),
    shapes=shapes, annotations=ann,
)

POST = ("document.documentElement.style.margin='0';document.documentElement.style.padding='0';"
        "document.body.style.margin='0';document.body.style.padding='0';"
        "document.body.style.lineHeight='0';document.body.style.fontSize='0';"
        "document.documentElement.style.overflow='hidden';document.body.style.overflow='hidden';"
        "document.querySelectorAll('.plotly-graph-div,.plot-container,.svg-container')"
        ".forEach(function(e){e.style.display='block';});")
fig.write_html("out.html", config={"displayModeBar": False}, post_script=POST)
